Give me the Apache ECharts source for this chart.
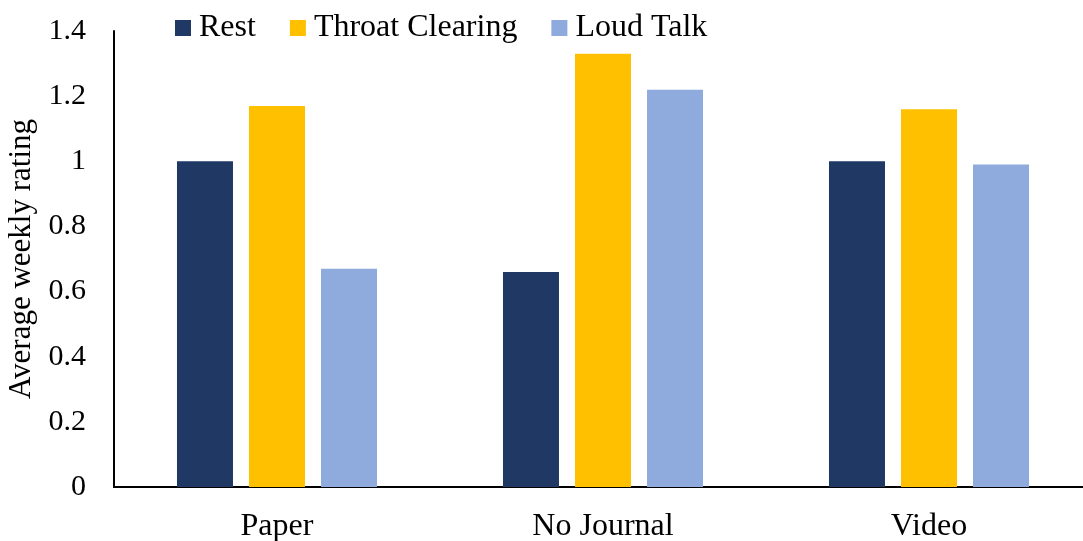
<!DOCTYPE html>
<html><head><meta charset="utf-8">
<script src="https://cdn.jsdelivr.net/npm/echarts@6/dist/echarts.min.js"></script>
<style>html,body{margin:0;padding:0;background:#fff}#c{width:1083px;height:541px}</style>
</head><body><div id="c"></div>
<script>
const categories = ['Paper', 'No Journal', 'Video'];
const seriesNames = ['Rest', 'Throat Clearing', 'Loud Talk'];
const rest = [1.0, 0.66, 1.0];
const throatClearing = [1.17, 1.33, 1.16];
const loudTalk = [0.67, 1.22, 0.99];
const colors = ['#203864', '#FFC000', '#8FAADC'];
const font = 'Liberation Serif';
const chart = echarts.init(document.getElementById('c'));
const dataSets = [rest, throatClearing, loudTalk];
chart.setOption({
  animation: false,
  textStyle: {fontFamily: font, color: '#000'},
  legend: {
    top: 7, left: 170, itemWidth: 16, itemHeight: 16, itemGap: 34,
    icon: 'rect',
    textStyle: {fontFamily: font, fontSize: 32, color: '#000', padding: [0, 0, 0, 3]},
    data: seriesNames
  },
  grid: {left: 114, width: 978, top: 31, bottom: 54, outerBoundsMode: 'none', containLabel: false},
  xAxis: {
    type: 'category', data: categories,
    axisLine: {lineStyle: {color: '#000', width: 2}},
    axisTick: {show: false},
    axisLabel: {fontFamily: font, fontSize: 32, color: '#000', margin: 24}
  },
  yAxis: {
    type: 'value', min: 0, max: 1.4, interval: 0.2,
    name: 'Average weekly rating', nameLocation: 'middle', nameGap: 77,
    nameTextStyle: {fontFamily: font, fontSize: 31, color: '#000'},
    axisLine: {show: true, lineStyle: {color: '#000', width: 2}},
    axisTick: {show: false},
    splitLine: {show: false},
    axisLabel: {fontFamily: font, fontSize: 30, color: '#000', margin: 28,
      formatter: v => String(Math.round(v * 10) / 10)}
  },
  series: dataSets.map((d, i) => ({
    name: seriesNames[i], type: 'bar', data: d,
    barWidth: 56, barGap: '28.6%',
    itemStyle: {color: colors[i]}
  }))
});
</script></body></html>
